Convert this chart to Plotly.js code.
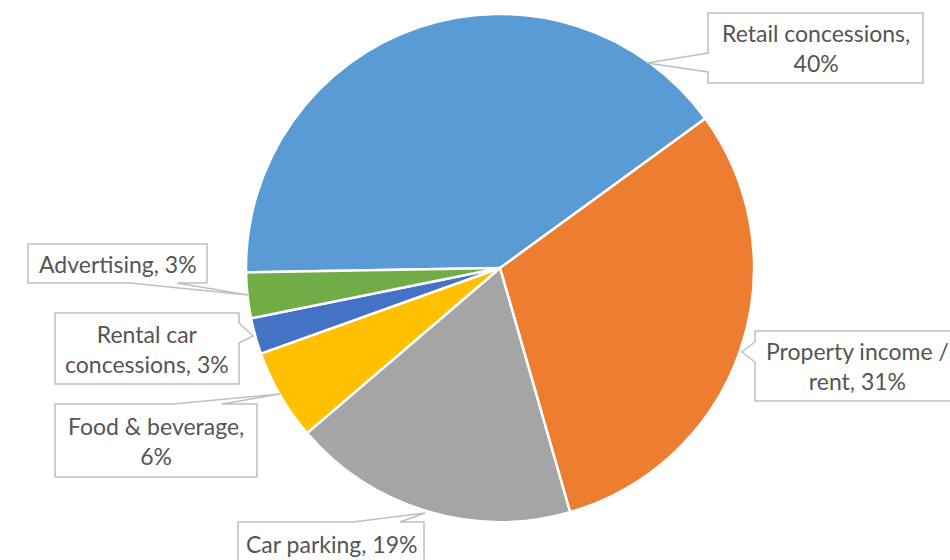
<!DOCTYPE html>
<html>
<head>
<meta charset="utf-8">
<script src="https://cdn.plot.ly/plotly-3.0.1.min.js"></script>
<style>html,body{margin:0;padding:0;background:#fff;}#chart{width:950px;height:560px;}</style>
</head>
<body>
<div id="chart"></div>
<script>
// ---- data ----
const categories = ["Retail concessions", "Property income / rent", "Car parking", "Food & beverage", "Rental car concessions", "Advertising"];
const values = [40.3, 30.6, 18.2, 5.8, 2.3, 2.9];
const pctLabels = ["40%", "31%", "19%", "6%", "3%", "3%"];
const colors = ["#5B9BD5", "#ED7D31", "#A5A5A5", "#FFC000", "#4472C4", "#70AD47"];
const wrapAfterWords = [2, 3, 0, 3, 2, 0];

// ---- layout helpers (pixel -> paper) ----
const W = 950, H = 560;
const px = (x) => x / W;
const py = (y) => 1 - y / H;
function pathFrom(points) {
  return points.map((p, i) => (i ? 'L' : 'M') + px(p[0]).toFixed(5) + ',' + py(p[1]).toFixed(5)).join(' ') + ' Z';
}
const calloutPolys = [
  [[708,13],[923,13],[923,83],[708,83],[708,72],[647,63],[708,53]],
  [[755,331],[962,331],[962,401],[755,401],[755,362],[742,352],[755,342]],
  [[238,522],[353,522],[425,513],[400,522],[424,522],[424,572],[238,572]],
  [[55,404],[173,404],[280,394],[222,404],[257,404],[257,477],[55,477]],
  [[55,313],[239,313],[239,323],[253,336],[239,343],[239,384],[55,384]],
  [[28,244],[207,244],[207,283],[177,283],[248,295],[130,283],[28,283]]
];
const labelCenters = [[815.5,48],[857,366],[332,544],[156,440.5],[147,348.5],[117.5,263.5]];

function labelText(i) {
  const words = (categories[i] + ', ' + pctLabels[i]).split(' ');
  const n = wrapAfterWords[i];
  if (!n) return words.join(' ');
  return words.slice(0, n).join(' ') + '<br>' + words.slice(n).join(' ');
}

const cx = 500, cy = 268, r = 254;
const trace = {
  type: 'pie',
  labels: categories,
  values: values,
  sort: false,
  direction: 'clockwise',
  rotation: -91,
  marker: { colors: colors, line: { color: '#ffffff', width: 2.5 } },
  textinfo: 'none',
  hoverinfo: 'skip',
  showlegend: false,
  domain: { x: [px(cx - r), px(cx + r)], y: [py(cy + r), py(cy - r)] }
};

const shapes = calloutPolys.map(p => ({
  type: 'path', xref: 'paper', yref: 'paper', path: pathFrom(p),
  fillcolor: '#ffffff', line: { color: '#BFBFBF', width: 1.5 }, layer: 'above'
}));
const annotations = categories.map((c, i) => ({
  xref: 'paper', yref: 'paper',
  x: px(labelCenters[i][0]), y: py(labelCenters[i][1]),
  xanchor: 'center', yanchor: 'middle', showarrow: false,
  text: labelText(i), align: 'center',
  font: { family: 'Lato, "Open Sans", sans-serif', size: 23, color: '#555555' }
}));

const layout = {
  width: W, height: H,
  margin: { l: 0, r: 0, t: 0, b: 0 },
  paper_bgcolor: '#ffffff',
  shapes: shapes,
  annotations: annotations,
  showlegend: false
};
Plotly.newPlot('chart', [trace], layout, { staticPlot: true, displayModeBar: false });
</script>
</body>
</html>
